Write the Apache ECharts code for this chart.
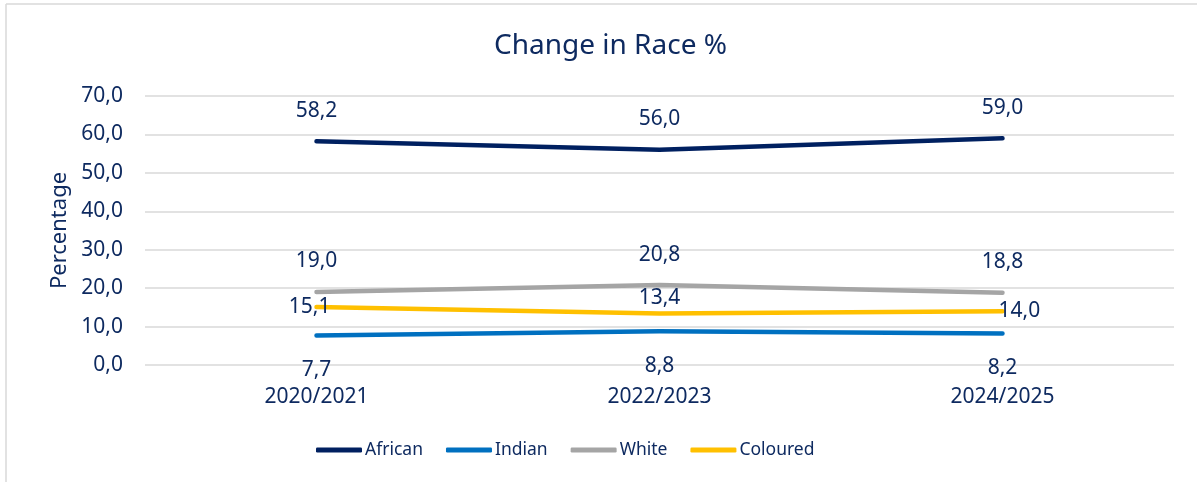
<!DOCTYPE html>
<html><head><meta charset="utf-8">
<script src="https://cdn.jsdelivr.net/npm/echarts@6/dist/echarts.min.js"></script>
<style>html,body{margin:0;padding:0;background:#fff}#c{width:1197px;height:482px}</style>
</head><body><div id="c"></div>
<script>
const categories = ['2020/2021', '2022/2023', '2024/2025'];
const african = [58.2, 56.0, 59.0];
const indian = [7.7, 8.8, 8.2];
const white = [19.0, 20.8, 18.8];
const coloured = [15.1, 13.4, 14.0];
const yTicks = [0, 10, 20, 30, 40, 50, 60, 70];

const TXT = '#0E2A60';
const FONT = 'Noto Sans';
const fmt = v => Number(v).toFixed(1).replace('.', ',');

function mk(name, data, color, labelCfgs) {
  return {
    name, type: 'line', data: data.map((v, i) => ({ value: v, label: labelCfgs[i] })),
    symbol: 'circle', symbolSize: 0, showSymbol: true, color,
    itemStyle: { color },
    lineStyle: { width: 4.5, color, cap: 'round', join: 'round' },
    label: { show: true, color: TXT, fontFamily: FONT, fontSize: 21, formatter: p => fmt(p.value) },
    emphasis: { disabled: true }, animation: false
  };
}
const lblTop = d => ({ position: 'top', distance: d });
const lblBot = d => ({ position: 'bottom', distance: d });

const chart = echarts.init(document.getElementById('c'));
chart.setOption({
  animation: false,
  title: { text: 'Change in Race %', left: 489, top: 27, textStyle: { color: TXT, fontFamily: FONT, fontSize: 28, fontWeight: 'normal' } },
  grid: { left: 145, right: 23, top: 96, bottom: 117 },
  legend: {
    bottom: 18, left: 311, itemWidth: 46, itemHeight: 5, itemGap: 23, icon: 'roundRect',
    textStyle: { color: TXT, fontFamily: FONT, fontSize: 17.5, padding: [0, 0, 0, -2] },
    data: ['African', 'Indian', 'White', 'Coloured']
  },
  xAxis: {
    type: 'category', data: categories, boundaryGap: true,
    axisLine: { show: false }, axisTick: { show: false },
    axisLabel: { color: TXT, fontFamily: FONT, fontSize: 21, margin: 22 }
  },
  yAxis: {
    type: 'value', min: yTicks[0], max: yTicks[yTicks.length - 1], interval: 10,
    name: 'Percentage', nameLocation: 'middle', nameGap: 74, nameRotate: 90,
    nameTextStyle: { color: TXT, fontFamily: FONT, fontSize: 22 },
    axisLabel: { color: TXT, fontFamily: FONT, fontSize: 21, margin: 22, formatter: v => fmt(v) },
    splitLine: { lineStyle: { color: '#D9D9D9', width: 1.5 } },
    axisLine: { show: false }, axisTick: { show: false }
  },
  graphic: [
    { type: 'line', shape: { x1: 6, y1: 4, x2: 1197, y2: 4 }, style: { stroke: '#D9D9D9', lineWidth: 1.5 } },
    { type: 'line', shape: { x1: 6, y1: 4, x2: 6, y2: 482 }, style: { stroke: '#D9D9D9', lineWidth: 1.5 } }
  ],
  series: [
    mk('African', african, '#002060', [lblTop(20), lblTop(20), lblTop(20)]),
    mk('Indian', indian, '#0070C0', [lblBot(24), lblBot(24), lblBot(24)]),
    mk('White', white, '#A5A5A5', [lblTop(20), lblTop(20), lblTop(20)]),
    mk('Coloured', coloured, '#FFC000', [{ position: 'left', distance: -14 }, lblTop(5), { position: 'right', distance: -4 }])
  ]
});
</script></body></html>
